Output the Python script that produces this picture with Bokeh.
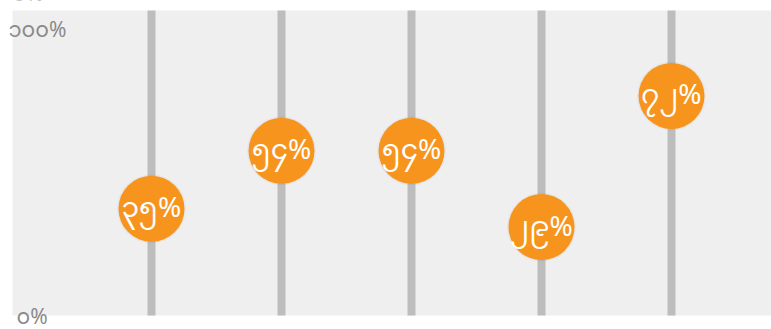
from bokeh.plotting import figure
from bokeh.models import Range1d, ColumnDataSource
from bokeh.core.properties import value
from bokeh.embed import file_html
from bokeh.resources import INLINE

# Survey results, one column per item (percent)
positions = [0, 1, 2, 3, 4]
percents = [35, 54, 54, 29, 72]

# Axis ticks and their labels
tick_values = [0, 100]
tick_labels = ["၀%", "၁၀၀%"]

MY_DIGITS = "၀၁၂၃၄၅၆၇၈၉"


def to_myanmar(n):
    return "".join(MY_DIGITS[int(d)] for d in str(n)) + "%"


point_labels = [to_myanmar(v) for v in percents]

FONT = "Noto Sans Myanmar, Noto Sans, sans-serif"

# The frame covers the whole canvas; the grey panel is drawn as a quad so
# that tick labels may spill over its edges without being clipped.
X_LO, X_HI = -1.1615, 4.7692
Y_LO, Y_HI = -4.59, 103.28
PANEL_LEFT = -1.069

p = figure(
    width=771, height=329,
    output_backend="svg", toolbar_location=None,
    x_range=Range1d(X_LO, X_HI), y_range=Range1d(Y_LO, Y_HI),
    min_border=0,
    background_fill_color="#ffffff", border_fill_color="#ffffff",
)
p.axis.visible = False
p.grid.visible = False
p.outline_line_color = None

# grey plotting panel spanning the 0..100 axis domain
p.quad(left=[PANEL_LEFT], right=[X_HI], bottom=[tick_values[0]], top=[tick_values[-1]],
       fill_color="#efefef", line_color=None)

src = ColumnDataSource(dict(x=positions, y=percents, label=point_labels,
                            y0=[tick_values[0]] * len(positions),
                            y1=[tick_values[-1]] * len(positions)))

# vertical track behind each marker
p.segment(x0="x", x1="x", y0="y0", y1="y1", source=src,
          line_color="#bdbdbd", line_width=8)

# faint shadow + marker
p.scatter(x="x", y="y", source=src, size=69, marker="circle",
          fill_color="#000000", fill_alpha=0.035, line_color=None)
p.scatter(x="x", y="y", source=src, size=66, marker="circle",
          fill_color="#f7941d", line_color=None)

p.text(x="x", y="y", text="label", source=src, y_offset=2,
       text_align="center", text_baseline="middle",
       text_color="#ffffff", text_font=value(FONT), text_font_size="28px")

# axis tick labels, drawn over the panel edge
tick_src = ColumnDataSource(dict(
    x=[-1.038, -1.1, -1.07],
    y=[-1.2, 92.8, 104.6],
    text=[tick_labels[0], tick_labels[1], tick_labels[0]],  # last: zero of the panel above
))
p.text(x="x", y="y", text="text", source=tick_src,
       text_align="left", text_baseline="middle",
       text_color="#8a8a8a", text_font=value(FONT), text_font_size="21px")

open("out.html", "w").write(file_html(p, INLINE))
